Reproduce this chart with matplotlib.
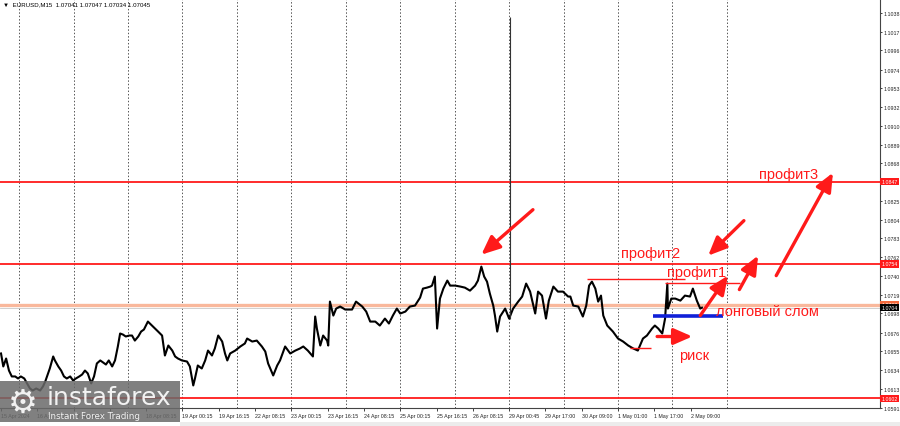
import matplotlib
matplotlib.use("Agg")
import matplotlib.pyplot as plt
from matplotlib.patches import Rectangle
from matplotlib.lines import Line2D
from matplotlib.transforms import blended_transform_factory

#----------------------------- данные графика EURUSD M15 -----------------------------#
# номер бара M15 от левого края окна
bars = [0, 4, 9, 14, 19, 25, 30, 35, 41, 46, 51, 56, 62, 69, 74, 78, 83, 86, 92, 95,
        101, 106, 111, 116, 122, 127, 132, 138, 143, 148, 153, 159, 164, 169, 175, 180, 185, 190, 196, 201,
        206, 210, 215, 220, 226, 231, 236, 242, 247, 252, 259, 268, 277, 284, 289, 295, 302, 307, 312, 319,
        328, 333, 339, 342, 347, 354, 360, 365, 372, 377, 383, 390, 395, 399, 404, 413, 422, 430, 434, 443,
        451, 460, 466, 471, 480, 487, 492, 501, 510, 519, 527, 533, 541, 550, 554, 557, 563, 568, 575, 577,
        580, 586, 591, 598, 607, 619, 626, 637, 644, 651, 660, 668, 677, 684, 691, 698, 704, 713, 721, 730,
        739, 744, 751, 757, 760, 765, 769, 774, 780, 787, 792, 801, 810, 818, 827, 836, 841, 847, 852, 857,
        862, 868, 871, 875, 880, 889, 896, 903, 912, 919, 926, 933, 942, 947, 954, 961, 966, 974, 982, 991,
        1000, 1004, 1009, 1018, 1026, 1032, 1037, 1042, 1048, 1053, 1058, 1062, 1069, 1074, 1079, 1088, 1097, 1106, 1115, 1123,
        1132, 1139, 1148, 1153, 1159, 1166, 1171, 1175, 1176, 1182, 1189, 1198, 1206, 1215, 1220, 1227, 1233, 1236]
# цена закрытия
closes = [1.06527, 1.06380, 1.06470, 1.06334, 1.06267, 1.06267, 1.06244, 1.06267, 1.06244, 1.06188,
          1.06131, 1.06108, 1.06131, 1.06108, 1.06154, 1.06210, 1.06301, 1.06357, 1.06493, 1.06448,
          1.06380, 1.06334, 1.06267, 1.06244, 1.06267, 1.06222, 1.06244, 1.06267, 1.06289, 1.06334,
          1.06301, 1.06188, 1.06267, 1.06414, 1.06448, 1.06425, 1.06402, 1.06448, 1.06380, 1.06448,
          1.06606, 1.06753, 1.06741, 1.06719, 1.06730, 1.06730, 1.06673, 1.06719, 1.06775, 1.06798,
          1.06888, 1.06832, 1.06775, 1.06730, 1.06504, 1.06617, 1.06560, 1.06493, 1.06470, 1.06448,
          1.06436, 1.06380, 1.06165, 1.06244, 1.06391, 1.06357, 1.06448, 1.06560, 1.06504, 1.06583,
          1.06730, 1.06662, 1.06527, 1.06448, 1.06527, 1.06560, 1.06606, 1.06640, 1.06696, 1.06662,
          1.06673, 1.06606, 1.06549, 1.06414, 1.06278, 1.06391, 1.06448, 1.06606, 1.06527, 1.06560,
          1.06583, 1.06606, 1.06560, 1.06493, 1.06945, 1.06809, 1.06617, 1.06730, 1.06673, 1.06617,
          1.07114, 1.06956, 1.07035, 1.07058, 1.07024, 1.07024, 1.07114, 1.07058, 1.07001, 1.06888,
          1.06888, 1.06843, 1.06922, 1.06866, 1.06956, 1.07035, 1.06979, 1.07001, 1.07058, 1.07069,
          1.07159, 1.07261, 1.07272, 1.07284, 1.07295, 1.07397, 1.06809, 1.07148, 1.07261, 1.07352,
          1.07295, 1.07295, 1.07284, 1.07272, 1.07238, 1.07295, 1.07352, 1.07510, 1.07397, 1.07340,
          1.07205, 1.07069, 1.06956, 1.06775, 1.06945, 1.07035, 1.06922, 1.07035, 1.07114, 1.07171,
          1.07318, 1.07227, 1.06979, 1.07227, 1.07182, 1.06922, 1.07125, 1.07284, 1.07227, 1.07227,
          1.07171, 1.07171, 1.07069, 1.07058, 1.06945, 1.07069, 1.07295, 1.07340, 1.07261, 1.07114,
          1.07182, 1.06956, 1.06843, 1.06809, 1.06775, 1.06696, 1.06662, 1.06617, 1.06583, 1.06560,
          1.06696, 1.06730, 1.06809, 1.06843, 1.06809, 1.06753, 1.06922, 1.07318, 1.07035, 1.07148,
          1.07148, 1.07125, 1.07182, 1.07171, 1.07261, 1.07125, 1.07035, 1.07045]

spike_bar = 898        # выброс цены 29 Apr
spike_high = 1.10335

# подписи оси времени (каждые 64 бара) и вертикальная сетка (каждые 96 баров)
time_ticks = [0, 64, 128, 192, 256, 320, 384, 448, 512, 576, 640, 704, 768, 832, 896, 960, 1024, 1088, 1152, 1216]
time_labels = ['15 Apr 2024', '16 Apr 08:15', '17 Apr 00:15', '17 Apr 16:15', '18 Apr 08:15',
               '19 Apr 00:15', '19 Apr 16:15', '22 Apr 08:15', '23 Apr 00:15', '23 Apr 16:15',
               '24 Apr 08:15', '25 Apr 00:15', '25 Apr 16:15', '26 Apr 08:15', '29 Apr 00:45',
               '29 Apr 17:00', '30 Apr 09:00', '1 May 01:00', '1 May 17:00', '2 May 09:00']
grid_bars = [32, 128, 224, 320, 416, 512, 608, 704, 800, 896, 992, 1088, 1184, 1280]

price_ticks = ['1.1038', '1.1017', '1.0996', '1.0974', '1.0953', '1.0932', '1.0910', '1.0889', '1.0868',
               '1.0825', '1.0804', '1.0783', '1.0762', '1.0740', '1.0719', '1.0698', '1.0676', '1.0655',
               '1.0634', '1.0613', '1.0591']

# уровни
red_levels = [1.0847, 1.0754, 1.0602]
orange_level = 1.0708
bid = 1.07045

# отрезки: (бар начала, бар конца, цена, цвет, толщина)
segments = [(1033, 1206, 1.07374, '#ff1a1a', 1.0),
            (1171, 1303, 1.07329, '#ff1a1a', 1.0),
            (1109, 1146, 1.06594, '#ff1a1a', 1.0),
            (1150, 1273, 1.06956, '#1020d8', 2.6)]

# стрелки: (бар, цена) -> (бар, цена)
arrows = [(938, 1.08154, 847, 1.07645),
          (1310, 1.08030, 1247, 1.07634),
          (1233, 1.06956, 1282, 1.07408),
          (1302, 1.07250, 1335, 1.07634),
          (1367, 1.07408, 1467, 1.08572),
          (1157, 1.06719, 1219, 1.06719)]

# надписи
notes = ['профит3', 'профит2', 'профит1', 'лонговый слом', 'риск']
note_bars = [1388, 1146, 1227, 1351, 1222]
note_prices = [1.08563, 1.07668, 1.07453, 1.07012, 1.06515]

#----------------------------------- рисунок -----------------------------------#
small = ['Liberation Sans', 'DejaVu Sans']
fs = 3.8
fig = plt.figure(figsize=(9, 4.27), dpi=100)
ax = fig.add_axes([0, 18 / 427, 880 / 900, 409 / 427])
ax.set_xlim(-1.8, 1550)
ax.set_ylim(1.05916, 1.10538)

for g in grid_bars:
    ax.axvline(g, color='#555555', lw=0.7, ls=(0, (1.5, 2)), zorder=1)

ax.axhline(orange_level, color='#f9b89c', lw=2.4, zorder=2)
ax.axhline(bid, color='#c8c8c8', lw=0.6, zorder=2)
for lv in red_levels:
    ax.axhline(lv, color='#ff1a1a', lw=1.3, zorder=2)

ax.plot(bars, closes, color='black', lw=1.5, zorder=3)
ax.vlines(spike_bar, closes[bars.index(896)], spike_high, color='#333333', lw=0.8, zorder=3)

for b0, b1, p, c, w in segments:
    ax.plot([b0, b1], [p, p], color=c, lw=w, zorder=4, solid_capstyle='butt')

for x0, y0, x1, y1 in arrows:
    ax.annotate('', xy=(x1, y1), xytext=(x0, y0),
                arrowprops=dict(arrowstyle='-|>,head_length=0.8,head_width=0.35', mutation_scale=14,
                                color='#ff1a1a', lw=2.4, shrinkA=0, shrinkB=0), zorder=5)

for t, b, p in zip(notes, note_bars, note_prices):
    ax.text(b, p, t, color='#ff1a1a', fontsize=10.5, ha='center', va='center',
            family=['Liberation Sans', 'DejaVu Sans'], zorder=6)

# оси
ax.yaxis.tick_right()
ax.set_yticks([float(v) for v in price_ticks], price_ticks)
ax.set_xticks(time_ticks, time_labels)
ax.tick_params(axis='y', length=1.2, width=0.6, labelsize=fs, pad=1, colors='#222222')
ax.tick_params(axis='x', length=2, width=0.6, labelsize=fs, pad=1.5, colors='#222222')
for lab in ax.get_yticklabels() + ax.get_xticklabels():
    lab.set_family(small)
for lab in ax.get_xticklabels():
    lab.set_ha('left')
for s in ['left', 'top']:
    ax.spines[s].set_visible(False)
for s in ['right', 'bottom']:
    ax.spines[s].set_color('#444444')
    ax.spines[s].set_linewidth(0.8)

# ценовые метки справа
tr = blended_transform_factory(ax.transAxes, ax.transData)
def price_box(p, txt, fc):
    ax.text(1.0015, p, txt, transform=tr, fontsize=fs, family=small, color='white', ha='left',
            va='center', bbox=dict(boxstyle='square,pad=0.2', fc=fc, ec='none'), clip_on=False, zorder=7)
for lv in red_levels:
    price_box(lv, '%.4f' % lv, '#ff1a1a')
price_box(orange_level, '1.0708', '#f26a3d')
price_box(bid, '1.0704', 'black')

ax.text(0.003, 0.995, '\u25bc  EURUSD,M15  1.07041 1.07047 1.07034 1.07045', transform=ax.transAxes,
        fontsize=4.4, family=small, ha='left', va='top', color='black')

# водяной знак и строка вкладок
fig.patches.append(Rectangle((0, 4 / 427), 180 / 900, 41 / 427, transform=fig.transFigure,
                             fc='#6a6a6a', ec='none', alpha=0.85, zorder=10))
fig.text(8 / 900, 24 / 427, '\u2699', fontsize=24, color='white', alpha=0.9, ha='left', va='center', zorder=11)
fig.text(47 / 900, 29 / 427, 'instaforex', fontsize=18, color='white', alpha=0.9, ha='left',
         va='center', zorder=11)
fig.text(48 / 900, 10 / 427, 'Instant Forex Trading', fontsize=6.3, color='white', alpha=0.9,
         ha='left', va='center', zorder=11)
fig.patches.append(Rectangle((180 / 900, 0), 720 / 900, 4 / 427, transform=fig.transFigure,
                             fc='#ececec', ec='none', zorder=9))
for sx in [190, 247, 280, 325, 383, 468, 505, 550, 605, 635, 690, 752, 803, 855]:
    fig.lines.append(Line2D([sx / 900, sx / 900], [0, 4 / 427], transform=fig.transFigure,
                            color='#999999', lw=0.6))

fig.savefig('out.png', dpi=100)
